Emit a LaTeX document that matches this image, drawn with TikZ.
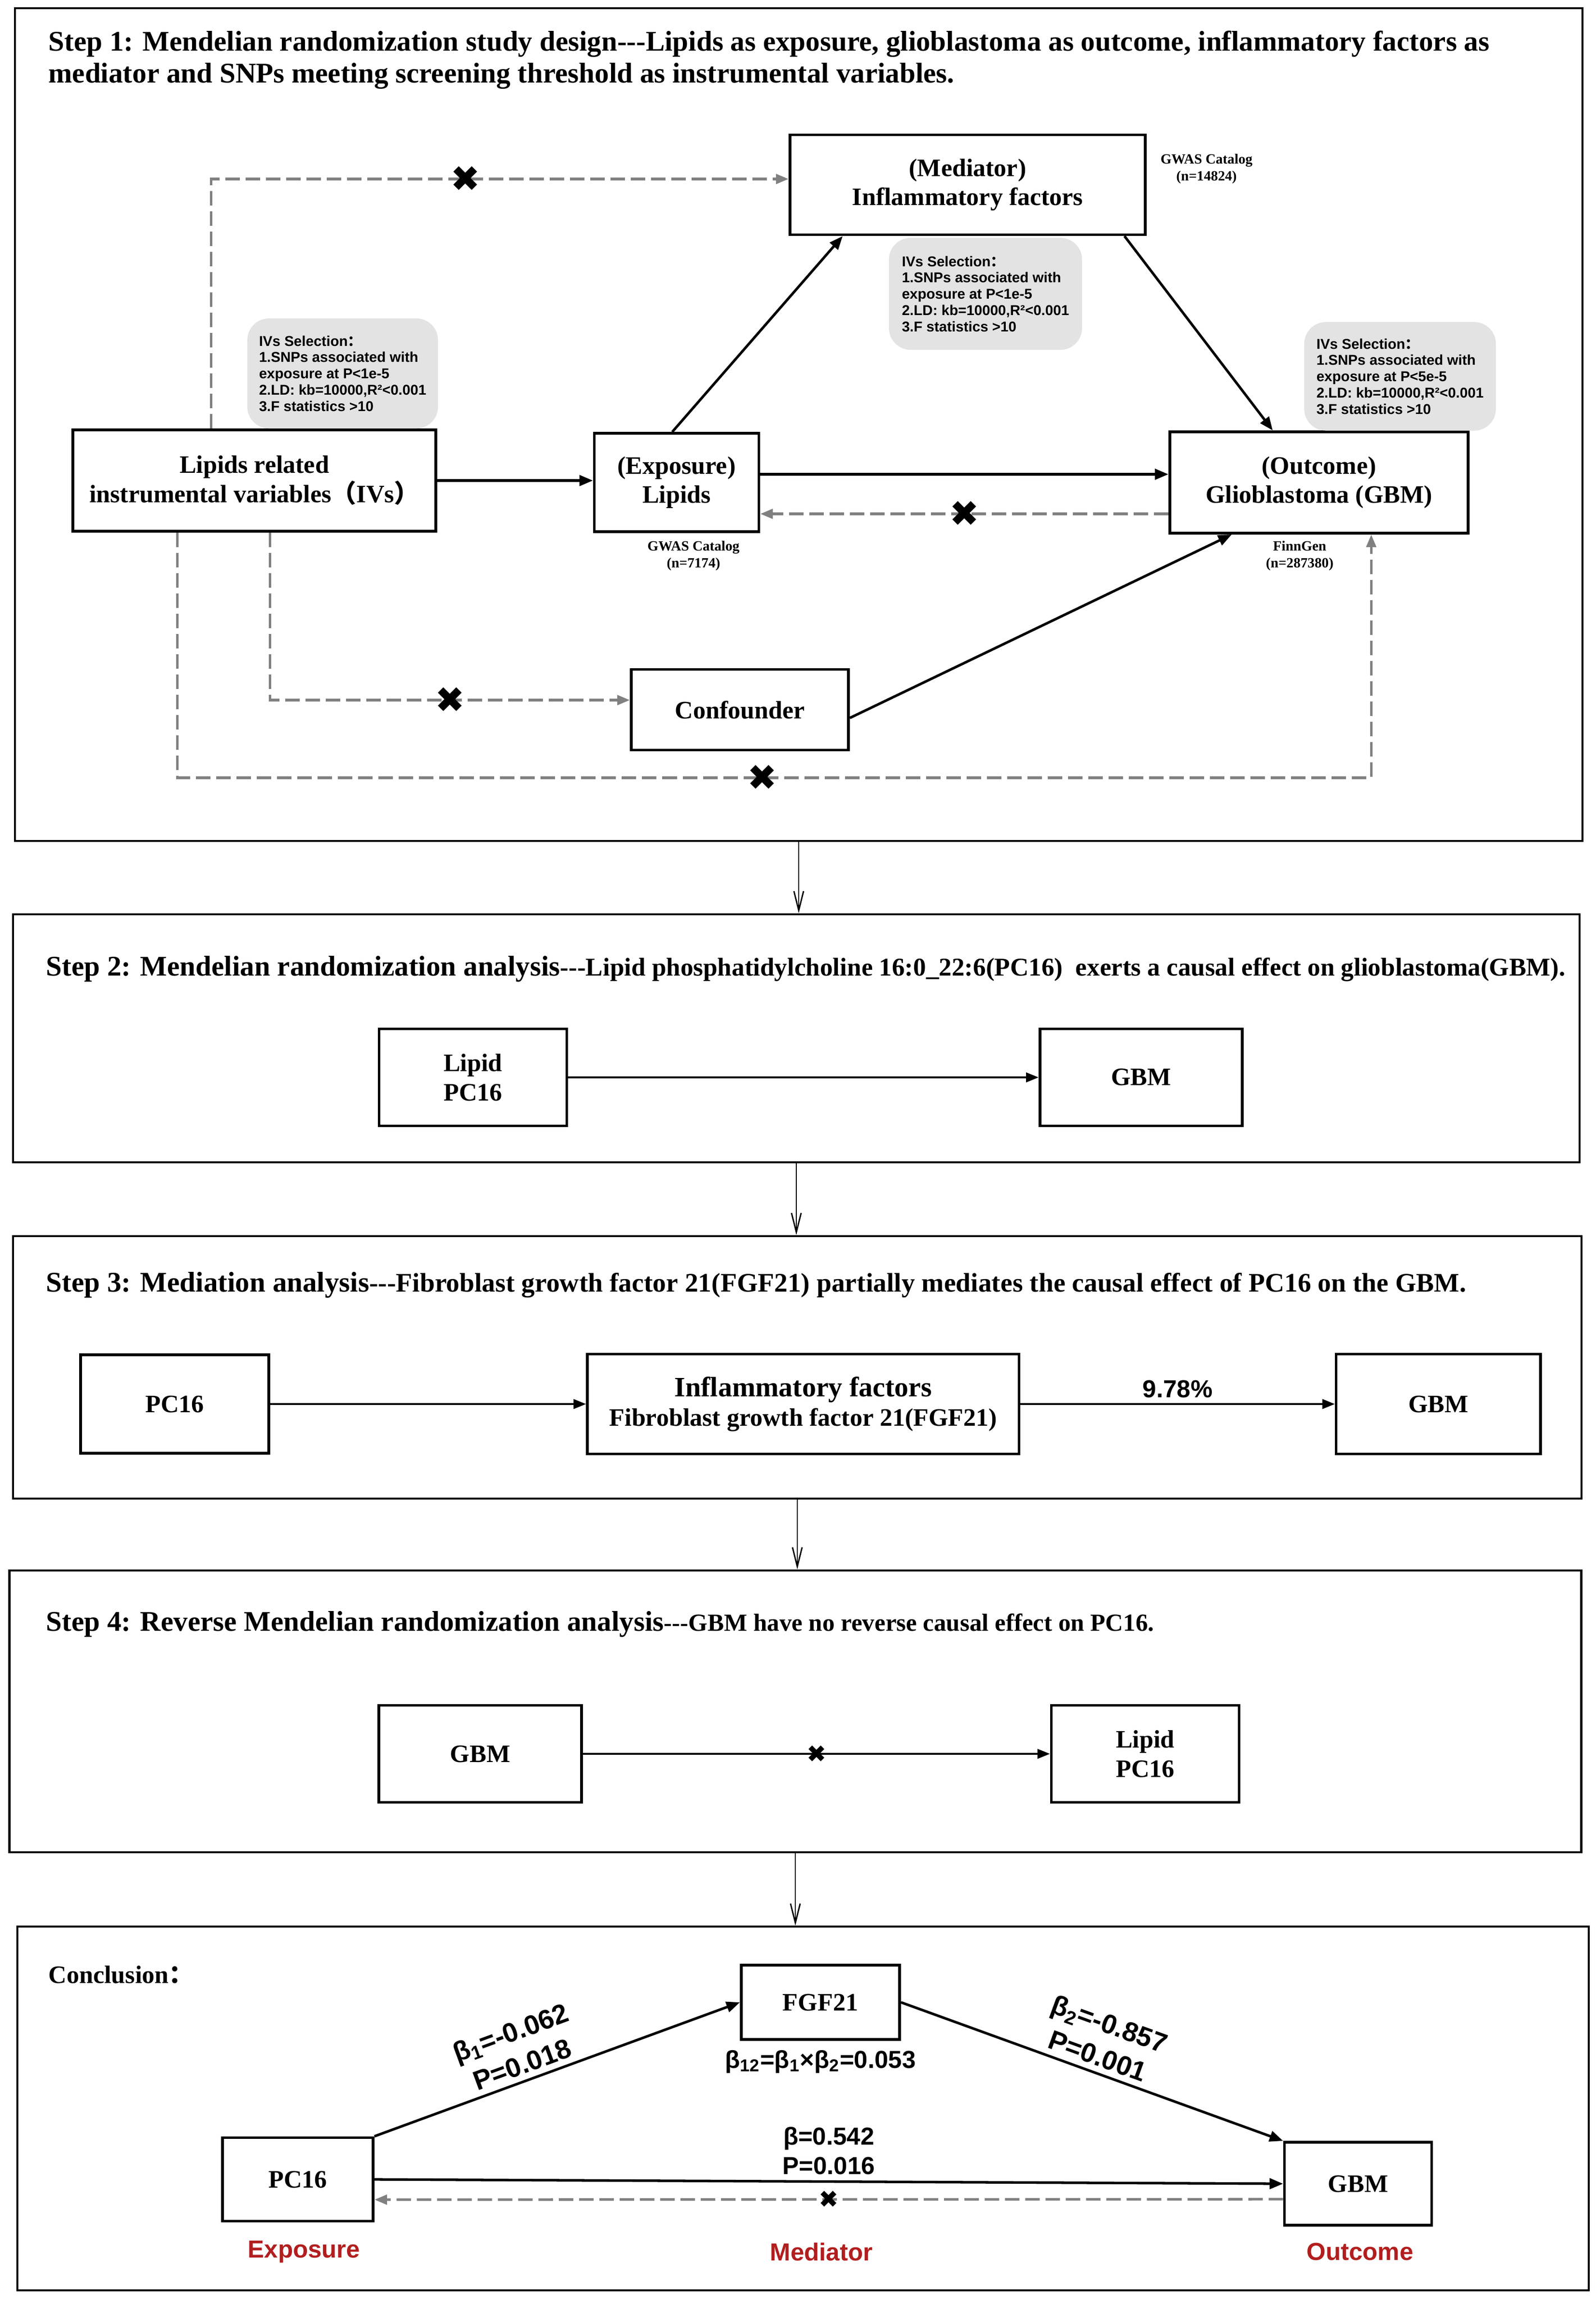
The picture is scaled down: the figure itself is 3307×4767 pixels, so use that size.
\documentclass[tikz,border=0pt]{standalone}
\usepackage{fontspec}
\setmainfont{Liberation Serif}
\newfontfamily\arialfont{Liberation Sans}
\newfontfamily\symbolfont{DejaVu Sans}
\newfontfamily\cjk{Noto Sans CJK SC}
\usetikzlibrary{arrows.meta, positioning}

\definecolor{ivgray}{RGB}{227,227,227}
\definecolor{dashgray}{RGB}{128,128,128}
\definecolor{rolered}{RGB}{178,30,30}

\newcommand{\steptitle}{\fontsize{16.8}{19}\selectfont\bfseries}
\newcommand{\stepnote}{\fontsize{14.5}{17}\selectfont\bfseries}
\newcommand{\boxtext}{\fontsize{14.8}{17.3}\selectfont\bfseries}
\newcommand{\ivtext}{\arialfont\fontsize{8.4}{9.6}\selectfont\bfseries}
\newcommand{\srctext}{\fontsize{8.3}{10}\selectfont\bfseries}
\newcommand{\coeftext}{\arialfont\fontsize{14.5}{17.5}\selectfont\bfseries}
\newcommand{\slopetext}{\arialfont\fontsize{16}{20}\selectfont\bfseries}
\newcommand{\bigcross}{{\symbolfont\fontsize{21}{21}\selectfont ✖}}
\newcommand{\smallcross}{{\symbolfont\fontsize{14}{14}\selectfont ✖}}

\begin{document}
\begin{tikzpicture}[x=0.01cm, y=-0.01cm, node distance=10pt,
    stepframe/.style={draw, line width=1.2pt, inner sep=0pt},
    box/.style={draw, line width=1.6pt, align=center, font=\boxtext, inner sep=2pt},
    ivnote/.style={fill=ivgray, rounded corners=0.45cm, align=left, font=\ivtext, inner sep=0pt},
    srclabel/.style={align=center, font=\srctext},
    cause/.style={line width=1.5pt, -{Triangle[length=0.28cm, width=0.22cm]}},
    thin cause/.style={line width=1pt, -{Triangle[length=0.26cm, width=0.2cm]}},
    nocause/.style={line width=1.5pt, draw=dashgray, dash pattern=on 0.3cm off 0.12cm, -{Triangle[length=0.26cm, width=0.2cm]}},
    nextstep/.style={line width=0.8pt, -{Straight Barb[length=0.4cm, width=0.2cm]}},
    nolink/.style={inner sep=0pt, text=black}]
    \useasboundingbox (0,0) rectangle (3307,4767);

    \node[stepframe, minimum width=32.46cm, minimum height=17.25cm] (step1) at (1655,880) {};
    \node[stepframe, minimum width=32.44cm, minimum height=5.14cm]  (step2) at (1650,2152) {};
    \node[stepframe, minimum width=32.48cm, minimum height=5.44cm]  (step3) at (1652,2834) {};
    \node[stepframe, minimum width=32.55cm, minimum height=5.84cm]  (step4) at (1648,3547) {};
    \node[stepframe, minimum width=32.54cm, minimum height=7.53cm]  (conclusion) at (1664,4370) {};

    \draw[nextstep] (step1.south) -- (step1.south |- step2.north);
    \draw[nextstep] (step2.south) -- (step2.south |- step3.north);
    \draw[nextstep] (step3.south) -- (step3.south |- step4.north);
    \draw[nextstep] (step4.south) -- (step4.south |- conclusion.north);

    \node[anchor=base west, align=left, font=\steptitle, inner sep=0pt] (title1) at (100,172)
        {Step 1: Mendelian randomization study design-{}-{}-Lipids as exposure, glioblastoma as outcome, inflammatory factors as\\
         mediator and SNPs meeting screening threshold as instrumental variables.};

    \node[box, minimum width=7.36cm, minimum height=2.07cm] (mediator)   at (2005,383)  {(Mediator)\\Inflammatory factors};
    \node[box, minimum width=7.51cm, minimum height=2.10cm] (ivs)        at (527,996)   {Lipids related\\instrumental variables{\cjk （}IVs{\cjk ）}};
    \node[box, minimum width=3.41cm, minimum height=2.04cm] (exposure)   at (1402,1000) {(Exposure)\\Lipids};
    \node[box, minimum width=6.18cm, minimum height=2.10cm] (outcome)    at (2733,1000) {(Outcome)\\Glioblastoma (GBM)};
    \node[box, minimum width=4.50cm, minimum height=1.67cm] (confounder) at (1533,1471) {Confounder};

    \node[ivnote, minimum width=3.95cm, minimum height=2.28cm] (iv note exp) at (710,774)
        {IVs Selection{\cjk ：}\\1.SNPs associated with\\exposure at P<1e-5\\2.LD: kb=10000,R²<0.001\\3.F statistics >10};
    \node[ivnote, minimum width=4.00cm, minimum height=2.32cm] (iv note med) at (2042,609)
        {IVs Selection{\cjk ：}\\1.SNPs associated with\\exposure at P<1e-5\\2.LD: kb=10000,R²<0.001\\3.F statistics >10};
    \node[ivnote, minimum width=3.97cm, minimum height=2.25cm] (iv note out) at (2901,780)
        {IVs Selection{\cjk ：}\\1.SNPs associated with\\exposure at P<5e-5\\2.LD: kb=10000,R²<0.001\\3.F statistics >10};

    \node[srclabel] (src med) at (2500,350)  {GWAS Catalog\\(n=14824)};
    \node[srclabel] (src exp) at (1437,1152) {GWAS Catalog\\(n=7174)};
    \node[srclabel] (src out) at (2693,1152) {FinnGen\\(n=287380)};

    \draw[cause] (ivs.east) -- (ivs.east -| exposure.west);
    \draw[cause] ([xshift=-0.09cm]exposure.north) -- ([xshift=1.12cm]mediator.south west);
    \draw[cause] ([xshift=-0.46cm]mediator.south east) -- ([xshift=2.16cm]outcome.north west);
    \draw[cause] ([yshift=0.17cm]exposure.east) -- ([yshift=0.17cm]outcome.west);
    \draw[nocause] ([yshift=-0.65cm]outcome.west) -- node[nolink] {\bigcross} ([yshift=-0.65cm]exposure.east);
    \draw[cause] ([yshift=-0.17cm]confounder.east) -- ([xshift=1.31cm]outcome.south west);

    \coordinate (gbm foot) at ([xshift=4.2cm]outcome.south west);
    \draw[nocause] ([xshift=2.89cm]ivs.north west) |- node[nolink, pos=0.72] {\bigcross} ([yshift=0.12cm]mediator.west);
    \draw[nocause] ([xshift=4.11cm]ivs.south west) |- node[nolink, pos=0.75] {\bigcross} ([yshift=0.2cm]confounder.west);
    \draw[nocause] ([xshift=2.19cm]ivs.south west) -- ++(0,508) -| node[nolink, pos=0.245] {\bigcross} (gbm foot);

    \node[anchor=base west, font=\steptitle, inner sep=0pt] (title2) at (95,2022)
        {Step 2: Mendelian randomization analysis{\fontsize{15.1}{17}\selectfont -{}-{}-Lipid phosphatidylcholine 16:0\_22:6(PC16)\ \ exerts a causal effect on glioblastoma(GBM).}};
    \node[box, minimum width=3.89cm, minimum height=2.01cm] (s2 lipid) at (980,2233) {Lipid\\PC16};
    \node[box, minimum width=4.19cm, minimum height=2.01cm, right=9.74cm of s2 lipid] (s2 gbm) {GBM};
    \draw[thin cause] (s2 lipid) -- (s2 gbm);

    \node[anchor=base west, font=\steptitle, inner sep=0pt] (title3) at (95,2677)
        {Step 3: Mediation analysis{\fontsize{15.8}{17}\selectfont -{}-{}-Fibroblast growth factor 21(FGF21) partially mediates the causal effect of PC16 on the GBM.}};
    \node[box, minimum width=3.90cm, minimum height=2.04cm] (s3 pc16) at (362,2910) {PC16};
    \node[box, minimum width=8.94cm, minimum height=2.07cm, right=6.54cm of s3 pc16] (s3 fgf21)
        {{\fontsize{16.5}{19}\selectfont Inflammatory factors}\\Fibroblast growth factor 21(FGF21)};
    \node[box, minimum width=4.23cm, minimum height=2.07cm, right=6.51cm of s3 fgf21] (s3 gbm) {GBM};
    \draw[thin cause] (s3 pc16) -- (s3 fgf21);
    \draw[thin cause] (s3 fgf21) -- node[above, font=\coeftext] {9.78\%} (s3 gbm);

    \node[anchor=base west, font=\steptitle, inner sep=0pt] (title4) at (95,3380)
        {Step 4: Reverse Mendelian randomization analysis{\stepnote -{}-{}-GBM have no reverse causal effect on PC16.}};
    \node[box, minimum width=4.20cm, minimum height=2.01cm] (s4 gbm) at (995,3635) {GBM};
    \node[box, minimum width=3.89cm, minimum height=2.01cm, right=9.67cm of s4 gbm] (s4 lipid) {Lipid\\PC16};
    \draw[thin cause] (s4 gbm) -- node[nolink] {\smallcross} (s4 lipid);

    \node[anchor=base west, font=\boxtext, inner sep=0pt] (conclusion label) at (100,4110) {Conclusion{\cjk ：}};
    \node[box, minimum width=3.28cm, minimum height=1.54cm] (fgf21) at (1700,4150) {FGF21};
    \node[font=\coeftext, below=2pt of fgf21] (mediated) {β\textsubscript{12}=β\textsubscript{1}×β\textsubscript{2}=0.053};
    \node[box, minimum width=3.12cm, minimum height=1.73cm] (pc16) at (617,4517) {PC16};
    \node[box, minimum width=3.05cm, minimum height=1.72cm] (gbm)  at (2814,4526) {GBM};
    \draw[cause] (pc16.north east) -- node[pos=0.42, above, sloped, align=center, font=\slopetext] {β\textsubscript{1}=-0.062\\P=0.018} (fgf21.west);
    \draw[cause] (fgf21.east) -- node[above, sloped, align=center, font=\slopetext] {β\textsubscript{2}=-0.857\\P=0.001} (gbm.north west);
    \draw[cause] (pc16.east) -- node[above, align=center, font=\coeftext] {β=0.542\\P=0.016} (gbm.west);
    \draw[nocause] ([yshift=-0.32cm]gbm.west) -- node[nolink] {\smallcross} ([yshift=-0.42cm]pc16.east);

    \node[font=\coeftext, text=rolered] (exposure role) at (630,4667)  {Exposure};
    \node[font=\coeftext, text=rolered] (mediator role) at (1702,4667) {Mediator};
    \node[font=\coeftext, text=rolered] (outcome role)  at (2818,4667) {Outcome};
\end{tikzpicture}
\end{document}
